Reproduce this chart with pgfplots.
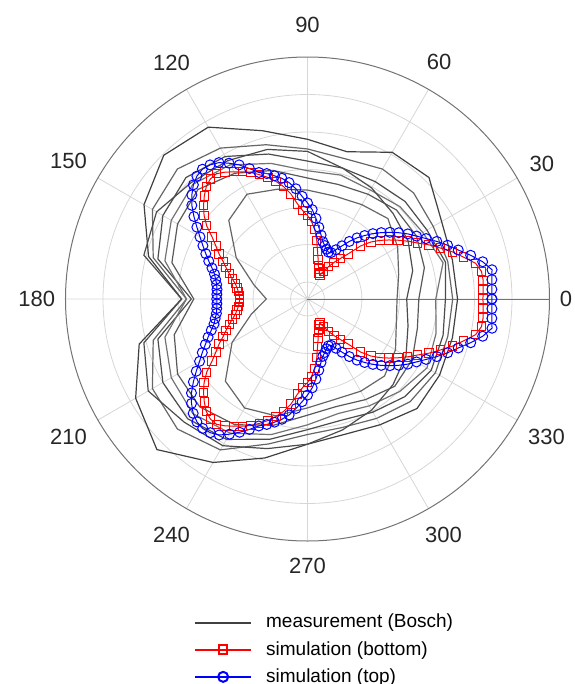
\documentclass[border=0pt]{standalone}
\usepackage{fontspec}
\setmainfont{Liberation Sans}
\usepackage{pgfplots}
\pgfplotsset{compat=1.18}
\usepgfplotslibrary{polar}
\newsavebox\lblbox
\newcommand\shiftlbl[3]{\sbox\lblbox{#3}\raisebox{#2}{\hbox to \wd\lblbox{\kern#1\usebox\lblbox\hss}}}
\begin{document}
\begin{tikzpicture}
\useasboundingbox (-153.75pt,-192.5pt) rectangle (133.25pt,149.5pt);
\begin{polaraxis}[
  at={(0pt,0pt)}, anchor=center,
  scale only axis, width=242pt, height=242pt,
  xmin=0, xmax=360, ymin=0, ymax=1,
  xtick={0,30,...,330},
  xticklabels={0,30,{\shiftlbl{-2pt}{2.5pt}{60}},{\shiftlbl{0pt}{7pt}{90}},120,150,180,210,240,{\raisebox{-3.5pt}[\height][\depth]{270}},300,330},
  ytick={0.07,0.225,0.38,0.535,0.69,0.845},
  yticklabels={},
  xmajorgrids, ymajorgrids,
  grid style={black!16, line width=0.4pt},
  axis line style={black!55, line width=0.5pt},
  major tick length=0pt,
  xticklabel style={font=\fontsize{11}{13}\selectfont, inner sep=5pt, text=black!85},
  legend cell align=left,
  legend image code/.code={\draw[mark repeat=2,mark phase=2,line width=1pt,#1] plot coordinates {(0pt,0pt) (14pt,0pt) (28pt,0pt)};},
  legend style={at={(0.265,-0.142)}, anchor=north west, draw=none, fill=none,
    font=\fontsize{9.5}{11}\selectfont, row sep=1.2pt, column sep=5pt, inner sep=0pt},
]
% measurement curves (Bosch)
\addplot[black!75, line width=0.6pt] coordinates {
(0,0.62) (15,0.62) (30,0.64) (45,0.71) (60,0.70) (75,0.63) (90,0.66) (105,0.72) (120,0.82) (135,0.84) (150,0.78) (165,0.68) (180,0.52) (195,0.72) (210,0.82) (225,0.88) (240,0.78) (255,0.68) (270,0.60) (285,0.58) (300,0.60) (315,0.64) (330,0.63) (345,0.62) (360,0.62)};
\addlegendentry{measurement (Bosch)}
\addplot[black!60, line width=0.6pt, forget plot] coordinates {
(0,0.60) (15,0.60) (30,0.60) (45,0.62) (60,0.62) (75,0.60) (90,0.62) (105,0.66) (120,0.72) (135,0.76) (150,0.74) (165,0.66) (180,0.50) (195,0.66) (210,0.74) (225,0.76) (240,0.72) (255,0.62) (270,0.56) (285,0.55) (300,0.57) (315,0.60) (330,0.61) (345,0.60) (360,0.60)};
\addplot[black!70, line width=0.6pt, forget plot] coordinates {
(0,0.57) (15,0.59) (30,0.57) (45,0.57) (60,0.56) (75,0.56) (90,0.57) (105,0.62) (120,0.68) (135,0.71) (150,0.69) (165,0.64) (180,0.48) (195,0.64) (210,0.69) (225,0.70) (240,0.67) (255,0.60) (270,0.54) (285,0.52) (300,0.54) (315,0.57) (330,0.59) (345,0.58) (360,0.57)};
\addplot[black!55, line width=0.6pt, forget plot] coordinates {
(0,0.53) (15,0.58) (30,0.55) (45,0.54) (60,0.52) (75,0.53) (90,0.53) (105,0.58) (120,0.64) (135,0.67) (150,0.65) (165,0.61) (180,0.50) (195,0.61) (210,0.65) (225,0.67) (240,0.64) (255,0.58) (270,0.52) (285,0.49) (300,0.51) (315,0.54) (330,0.57) (345,0.55) (360,0.53)};
\addplot[black!65, line width=0.6pt, forget plot] coordinates {
(0,0.46) (15,0.50) (30,0.52) (45,0.52) (60,0.50) (75,0.49) (90,0.50) (105,0.55) (120,0.60) (135,0.64) (150,0.62) (165,0.58) (180,0.47) (195,0.57) (210,0.62) (225,0.63) (240,0.60) (255,0.54) (270,0.48) (285,0.46) (300,0.48) (315,0.51) (330,0.50) (345,0.47) (360,0.46)};
\addplot[black!60, line width=0.6pt, forget plot] coordinates {
(0,0.37) (15,0.39) (30,0.43) (45,0.47) (60,0.45) (75,0.44) (90,0.45) (105,0.47) (120,0.50) (135,0.46) (150,0.34) (165,0.23) (180,0.17) (195,0.24) (210,0.36) (225,0.48) (240,0.52) (255,0.50) (270,0.45) (285,0.43) (300,0.44) (315,0.45) (330,0.42) (345,0.38) (360,0.37)};
\addplot[black!70, line width=0.6pt, forget plot] coordinates {
(0,0.41) (15,0.45) (30,0.48) (45,0.50) (60,0.53) (75,0.56) (90,0.61) (105,0.64) (120,0.66) (135,0.68) (150,0.72) (165,0.70) (180,0.52) (195,0.70) (210,0.76) (225,0.72) (240,0.70) (255,0.64) (270,0.60) (285,0.56) (300,0.53) (315,0.50) (330,0.47) (345,0.43) (360,0.41)};
% simulation (bottom)
\addplot[red, line width=0.5pt, mark=square, mark size=2.1pt, mark options={fill=white, fill opacity=0.6}] coordinates {
(0,.725) (3,.727) (6,.730) (9,.728) (12,.710) (15,.668) (18,.630) (21,.588) (24,.550) (27,.510) (30,.478) (33,.446) (36,.415) (39,.385) (42,.352) (45,.310) (48,.250) (51,.215) (54,.187) (57,.160) (60,.130) (63,.112) (66,.118) (69,.132) (72,.145) (75,.170) (78,.200) (81,.245) (84,.290) (87,.320) (90,.345) (93,.365) (96,.395) (99,.440) (102,.475) (105,.503) (108,.528) (111,.550) (114,.572) (117,.590) (120,.607) (123,.625) (126,.640) (129,.638) (132,.625) (135,.603) (138,.578) (141,.550) (144,.515) (147,.470) (150,.437) (153,.410) (156,.382) (159,.360) (162,.340) (165,.322) (168,.305) (171,.295) (174,.287) (177,.282) (180,.280)
(183,.282) (186,.287) (189,.295) (192,.305) (195,.322) (198,.340) (201,.360) (204,.382) (207,.410) (210,.437) (213,.470) (216,.515) (219,.550) (222,.578) (225,.603) (228,.625) (231,.638) (234,.640) (237,.625) (240,.607) (243,.590) (246,.572) (249,.550) (252,.528) (255,.503) (258,.475) (261,.440) (264,.395) (267,.365) (270,.345) (273,.320) (276,.290) (279,.245) (282,.200) (285,.170) (288,.145) (291,.132) (294,.118) (297,.112) (300,.130) (303,.160) (306,.187) (309,.215) (312,.250) (315,.310) (318,.352) (321,.385) (324,.415) (327,.446) (330,.478) (333,.510) (336,.550) (339,.588) (342,.630) (345,.668) (348,.710) (351,.728) (354,.730) (357,.727) (360,.725)};
\addlegendentry{simulation (bottom)}
% simulation (top)
\addplot[blue, line width=0.5pt, mark=o, mark size=2.5pt, mark options={fill=white, fill opacity=0.6}] coordinates {
(0,.762) (3,.763) (6,.766) (9,.772) (12,.740) (15,.698) (18,.655) (21,.620) (24,.585) (27,.550) (30,.520) (33,.494) (36,.466) (39,.438) (42,.410) (45,.382) (48,.353) (51,.325) (54,.294) (57,.262) (60,.235) (63,.215) (66,.212) (69,.220) (72,.232) (75,.245) (78,.270) (81,.300) (84,.335) (87,.370) (90,.397) (93,.425) (96,.458) (99,.487) (102,.510) (105,.527) (108,.545) (111,.560) (114,.590) (117,.622) (120,.648) (123,.672) (126,.685) (129,.690) (132,.683) (135,.667) (138,.643) (141,.615) (144,.580) (147,.545) (150,.513) (153,.485) (156,.460) (159,.437) (162,.415) (165,.398) (168,.388) (171,.380) (174,.376) (177,.375) (180,.375)
(183,.375) (186,.377) (189,.381) (192,.390) (195,.400) (198,.418) (201,.440) (204,.462) (207,.488) (210,.515) (213,.548) (216,.583) (219,.617) (222,.645) (225,.668) (228,.683) (231,.688) (234,.683) (237,.670) (240,.645) (243,.618) (246,.590) (249,.562) (252,.545) (255,.527) (258,.508) (261,.485) (264,.455) (267,.425) (270,.397) (273,.368) (276,.333) (279,.298) (282,.268) (285,.245) (288,.232) (291,.220) (294,.212) (297,.215) (300,.235) (303,.262) (306,.294) (309,.325) (312,.353) (315,.382) (318,.410) (321,.438) (324,.466) (327,.494) (330,.520) (333,.550) (336,.585) (339,.620) (342,.655) (345,.698) (348,.740) (351,.772) (354,.766) (357,.763) (360,.762)};
\addlegendentry{simulation (top)}
\end{polaraxis}
\end{tikzpicture}
\end{document}
